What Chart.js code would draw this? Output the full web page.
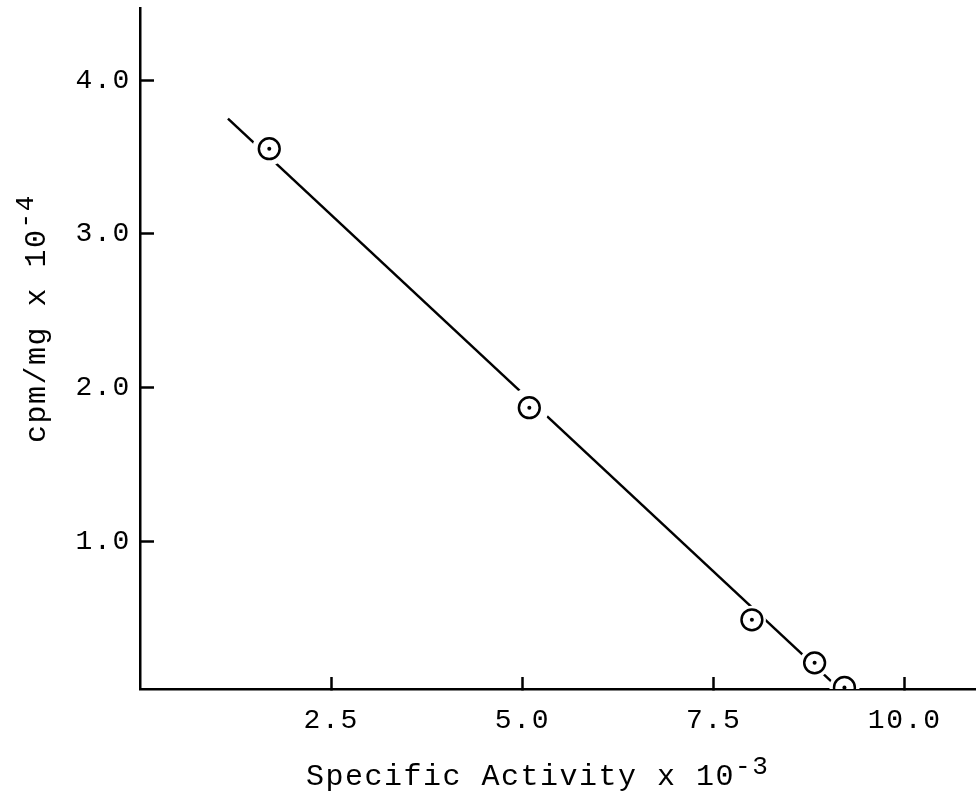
<!DOCTYPE html>
<html>
<head>
<meta charset="utf-8">
<script src="https://cdn.jsdelivr.net/npm/chart.js@4"></script>
<style>
  html, body { margin: 0; padding: 0; background: #fff; }
  #wrap { width: 976px; height: 798px; }
</style>
</head>
<body>
<div id="wrap"><canvas id="c" width="976" height="798"></canvas></div>
<script>
// ---- data ----
const xVals = [1.69, 5.09, 8.00, 8.82, 9.21];     // Specific Activity x 10^-3
const yVals = [3.555, 1.87, 0.49, 0.21, 0.05];    // cpm/mg x 10^-4
const fitX = [1.15, 9.08];                        // fitted line end points
const fitY = [3.75, 0.07];
const xTicks = [2.5, 5.0, 7.5, 10.0];
const yTicks = [1.0, 2.0, 3.0, 4.0];
const xTitle = 'Specific Activity x 10';
const xTitleExp = '-3';
const yTitle = 'cpm/mg x 10';
const yTitleExp = '-4';

const FONT = '"Liberation Mono", "DejaVu Sans Mono", monospace';
const pts = xVals.map((x, i) => ({ x: x, y: yVals[i] }));
const fitPts = fitX.map((x, i) => ({ x: x, y: fitY[i] }));

const spacingPlugin = {
  id: 'spacing',
  beforeDraw(chart) { chart.ctx.letterSpacing = '1.7px'; }
};

const titlesPlugin = {
  id: 'titles',
  afterDraw(chart) {
    const ctx = chart.ctx;
    const ca = chart.chartArea;
    ctx.save();
    ctx.fillStyle = '#000';
    ctx.textAlign = 'left';
    ctx.textBaseline = 'alphabetic';
    ctx.letterSpacing = '1.5px';
    // x title
    ctx.font = '30px ' + FONT;
    const xl = ca.left + 166, xb = ca.bottom + 96;
    ctx.fillText(xTitle, xl, xb);
    const w1 = ctx.measureText(xTitle).width;
    ctx.font = '26px ' + FONT;
    ctx.fillText(xTitleExp, xl + w1, xb - 11);
    // y title (rotated)
    ctx.translate(ca.left - 95, ca.bottom - 246);
    ctx.rotate(-Math.PI / 2);
    ctx.font = '30px ' + FONT;
    ctx.fillText(yTitle, 0, 0);
    const w2 = ctx.measureText(yTitle).width;
    ctx.font = '26px ' + FONT;
    ctx.fillText(yTitleExp, w2, -12);
    ctx.restore();
  }
};

function noPad(s) { s.paddingTop = 0; s.paddingBottom = 0; s.paddingLeft = 0; s.paddingRight = 0; }

new Chart(document.getElementById('c'), {
  type: 'scatter',
  data: {
    datasets: [
      { // center dots
        data: pts, order: -1, showLine: false,
        pointRadius: 2, pointBackgroundColor: '#000', pointBorderWidth: 0
      },
      { // open circles
        data: pts, order: 0, showLine: false,
        pointRadius: 10.4, pointBorderWidth: 2.5,
        pointBorderColor: '#000', pointBackgroundColor: '#fff'
      },
      { // white gaps around circles
        data: pts, order: 1, showLine: false,
        pointRadius: [17, 20, 14, 15, 15], pointBorderWidth: 0,
        pointBackgroundColor: '#fff', pointBorderColor: '#fff'
      },
      { // fitted line
        data: fitPts, order: 2, showLine: true,
        borderColor: '#000', borderWidth: 2.5, pointRadius: 0, fill: false
      }
    ]
  },
  options: {
    responsive: false,
    animation: false,
    devicePixelRatio: 1,
    layout: { autoPadding: false, padding: { top: 8, right: 0, left: 0, bottom: 0 } },
    plugins: { legend: { display: false }, tooltip: { enabled: false } },
    scales: {
      x: {
        type: 'linear', min: 0, max: 10.93, z: 1,
        afterBuildTicks: s => { s.ticks = xTicks.map(v => ({ value: v })); },
        afterFit: s => { s.height = 109; noPad(s); },
        border: { display: true, color: '#000', width: 2.5 },
        grid: { drawOnChartArea: false, drawTicks: true, tickLength: -12, tickWidth: 2.5, tickColor: '#000' },
        ticks: {
          color: '#000', padding: 27, maxRotation: 0, autoSkip: false,
          font: { family: FONT, size: 28 },
          callback: v => Number(v).toFixed(1)
        }
      },
      y: {
        type: 'linear', min: 0.04, max: 4.47, z: 1,
        afterBuildTicks: s => { s.ticks = yTicks.map(v => ({ value: v })); },
        afterFit: s => { s.width = 140; noPad(s); },
        border: { display: true, color: '#000', width: 2.5 },
        grid: { drawOnChartArea: false, drawTicks: true, tickLength: -14, tickWidth: 2.5, tickColor: '#000' },
        ticks: {
          color: '#000', padding: 23, autoSkip: false,
          font: { family: FONT, size: 28 },
          callback: v => Number(v).toFixed(1)
        }
      }
    }
  },
  plugins: [spacingPlugin, titlesPlugin]
});
</script>
</body>
</html>
